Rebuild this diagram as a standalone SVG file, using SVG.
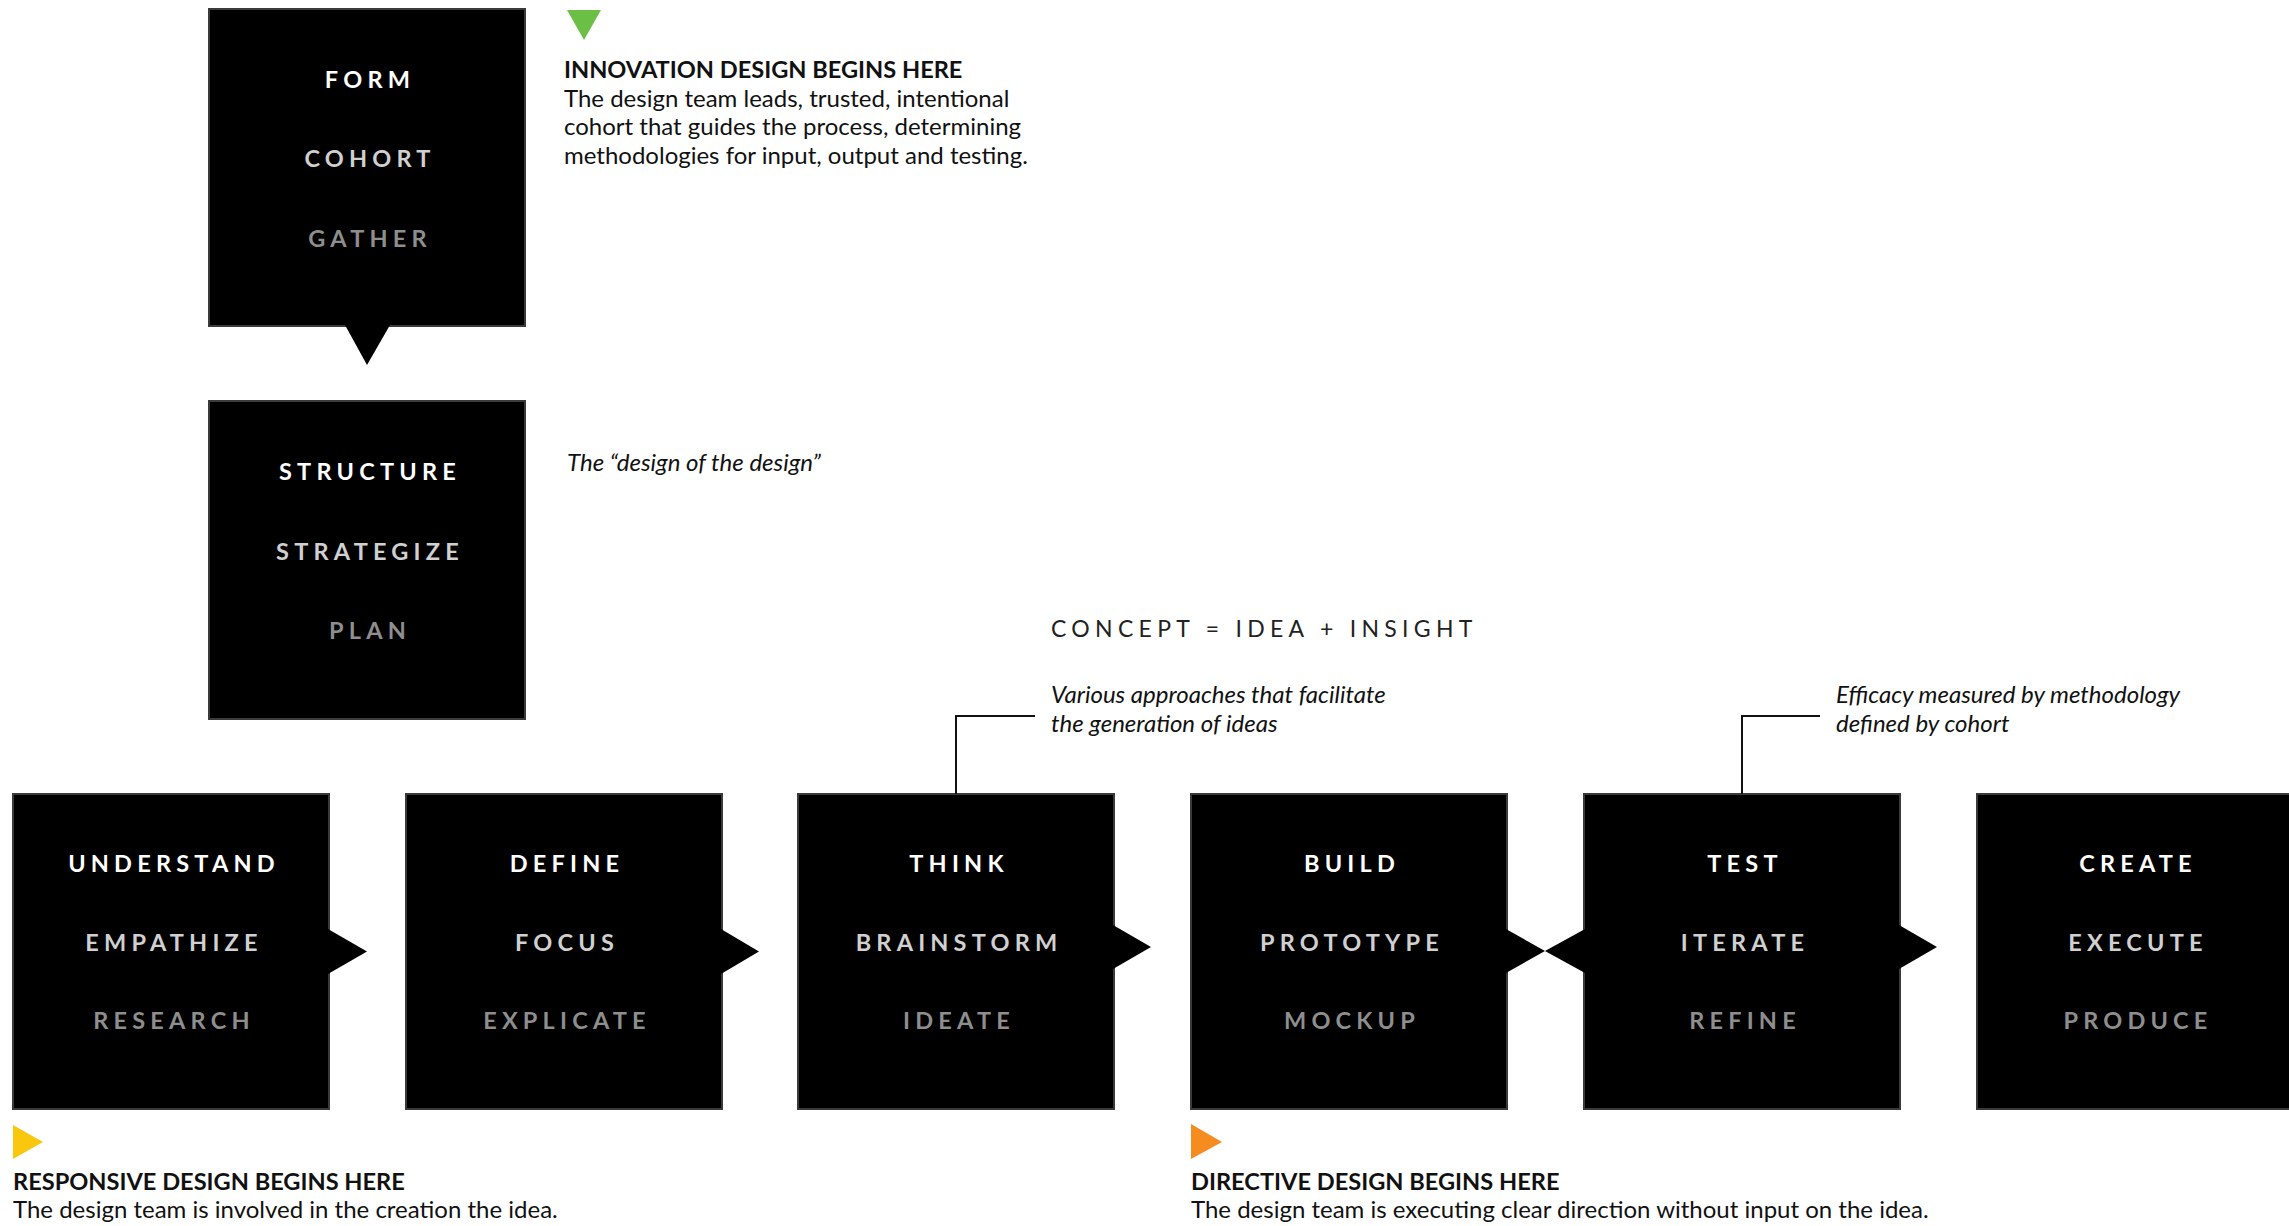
<svg xmlns="http://www.w3.org/2000/svg" width="2289" height="1226" viewBox="0 0 2289 1226">
<style>
.box{fill:#000;stroke:#3a3a3a;stroke-width:2}
.lbl{font-family:Lato,"Liberation Sans",sans-serif;font-weight:bold;font-size:23.5px;letter-spacing:5.2px;text-anchor:middle}
.l1{fill:#fff}.l2{fill:#d0d0d0}.l3{fill:#8e8e8e}
.arr{fill:#000}
.hd{font-family:Lato,"Liberation Sans",sans-serif;font-weight:bold;font-size:23.6px;fill:#111}
.bd{font-family:Lato,"Liberation Sans",sans-serif;font-size:24px;fill:#111}
.it{font-family:Lato,"Liberation Sans",sans-serif;font-style:italic;font-size:24px;fill:#111}
.cc{font-family:Lato,"Liberation Sans",sans-serif;font-size:23px;letter-spacing:5.3px;fill:#222}
.lead{fill:none;stroke:#111;stroke-width:2}
</style>
<rect width="2289" height="1226" fill="#fff"/>
<g id="form">
<rect class="box" x="209" y="9" width="316" height="317"/>
<text class="lbl l1" x="370" y="88">FORM</text>
<text class="lbl l2" x="370" y="167">COHORT</text>
<text class="lbl l3" x="370" y="247">GATHER</text>
</g>
<g id="structure">
<rect class="box" x="209" y="401" width="316" height="318"/>
<text class="lbl l1" x="370" y="480">STRUCTURE</text>
<text class="lbl l2" x="370" y="560">STRATEGIZE</text>
<text class="lbl l3" x="370" y="639">PLAN</text>
</g>
<g id="understand">
<rect class="box" x="13" y="794" width="316" height="315"/>
<text class="lbl l1" x="174" y="872">UNDERSTAND</text>
<text class="lbl l2" x="174" y="951">EMPATHIZE</text>
<text class="lbl l3" x="174" y="1029">RESEARCH</text>
</g>
<g id="define">
<rect class="box" x="406" y="794" width="316" height="315"/>
<text class="lbl l1" x="567" y="872">DEFINE</text>
<text class="lbl l2" x="567" y="951">FOCUS</text>
<text class="lbl l3" x="567" y="1029">EXPLICATE</text>
</g>
<g id="think">
<rect class="box" x="798" y="794" width="316" height="315"/>
<text class="lbl l1" x="959" y="872">THINK</text>
<text class="lbl l2" x="959" y="951">BRAINSTORM</text>
<text class="lbl l3" x="959" y="1029">IDEATE</text>
</g>
<g id="build">
<rect class="box" x="1191" y="794" width="316" height="315"/>
<text class="lbl l1" x="1352" y="872">BUILD</text>
<text class="lbl l2" x="1352" y="951">PROTOTYPE</text>
<text class="lbl l3" x="1352" y="1029">MOCKUP</text>
</g>
<g id="test">
<rect class="box" x="1584" y="794" width="316" height="315"/>
<text class="lbl l1" x="1745" y="872">TEST</text>
<text class="lbl l2" x="1745" y="951">ITERATE</text>
<text class="lbl l3" x="1745" y="1029">REFINE</text>
</g>
<g id="create">
<rect class="box" x="1977" y="794" width="316" height="315"/>
<text class="lbl l1" x="2138" y="872">CREATE</text>
<text class="lbl l2" x="2138" y="951">EXECUTE</text>
<text class="lbl l3" x="2138" y="1029">PRODUCE</text>
</g>
<g id="connectors">
<polygon class="arr" points="345,325 390,325 367,365"/>
<polygon class="arr" points="328,929 328,974 367,951.5"/>
<polygon class="arr" points="721,929 721,974 759,951.5"/>
<polygon class="arr" points="1113,925 1113,969 1151,947"/>
<polygon class="arr" points="1506,929 1506,973 1545,951"/>
<polygon class="arr" points="1585,929 1585,973 1545,951"/>
<polygon class="arr" points="1899,925 1899,969 1937,947"/>
<polyline class="lead" points="956,794 956,716 1035,716"/>
<polyline class="lead" points="1742,794 1742,716 1820,716"/>
</g>
<g id="innovation-note">
<polygon fill="#6cbf45" points="567,10 601,10 584,40"/>
<text class="hd" x="564" y="78">INNOVATION DESIGN BEGINS HERE</text>
<text class="bd" x="564" y="107">The design team leads, trusted, intentional</text>
<text class="bd" x="564" y="135">cohort that guides the process, determining</text>
<text class="bd" x="564" y="164">methodologies for input, output and testing.</text>
</g>
<g id="design-note">
<text class="it" x="567" y="471">The “design of the design”</text>
</g>
<g id="concept">
<text class="cc" x="1051" y="637">CONCEPT = IDEA + INSIGHT</text>
</g>
<g id="think-note">
<text class="it" x="1051" y="703">Various approaches that facilitate</text>
<text class="it" x="1051" y="732">the generation of ideas</text>
</g>
<g id="test-note">
<text class="it" x="1836" y="703">Efficacy measured by methodology</text>
<text class="it" x="1836" y="732">defined by cohort</text>
</g>
<g id="responsive-note">
<polygon fill="#f9c80e" points="13,1125 13,1159 43,1142"/>
<text class="hd" x="13" y="1190">RESPONSIVE DESIGN BEGINS HERE</text>
<text class="bd" x="13" y="1218">The design team is involved in the creation the idea.</text>
</g>
<g id="directive-note">
<polygon fill="#f68b1f" points="1191,1124 1191,1159 1222,1142"/>
<text class="hd" x="1191" y="1190">DIRECTIVE DESIGN BEGINS HERE</text>
<text class="bd" x="1191" y="1218">The design team is executing clear direction without input on the idea.</text>
</g>
</svg>
